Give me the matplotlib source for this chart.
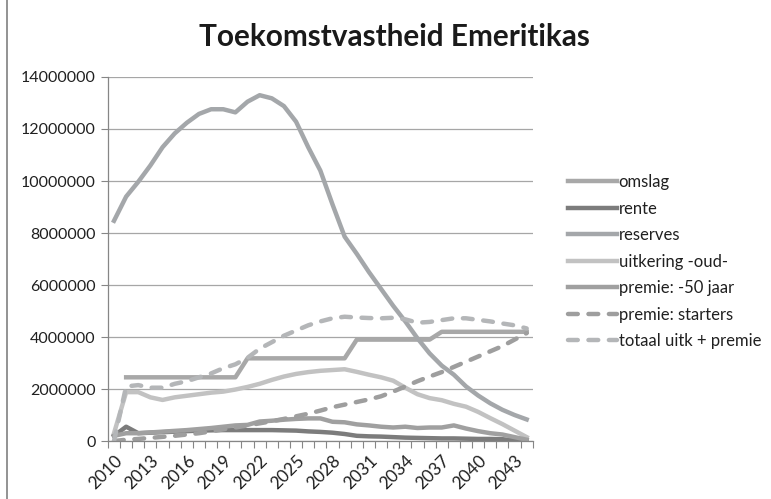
import numpy as np
import matplotlib
matplotlib.use('Agg')
import matplotlib.pyplot as plt
from matplotlib.lines import Line2D

plt.rcParams['font.family'] = ['Lato', 'DejaVu Sans']

years = list(range(2010, 2045))

# values in euro
omslag = [np.nan] + [2.45e6] * 10 + [3.18e6] * 9 + [3.9e6] * 7 + [4.2e6] * 8
rente = [0.2, 0.55, 0.3, 0.32, 0.34, 0.36, 0.38, 0.4, 0.41, 0.42, 0.42, 0.42,
         0.42, 0.42, 0.41, 0.4, 0.37, 0.35, 0.32, 0.27, 0.2, 0.18, 0.17, 0.15,
         0.13, 0.12, 0.11, 0.1, 0.1, 0.09, 0.08, 0.08, 0.07, 0.02, 0.0]
reserves = [8.47, 9.4, 9.97, 10.6, 11.3, 11.83, 12.24, 12.58, 12.76, 12.76,
            12.64, 13.05, 13.3, 13.18, 12.88, 12.28, 11.3, 10.4, 9.1, 7.86,
            7.2, 6.5, 5.85, 5.2, 4.6, 3.95, 3.37, 2.9, 2.55, 2.1, 1.75, 1.45,
            1.2, 1.0, 0.83]
uitkering = [0.3, 1.88, 1.88, 1.68, 1.58, 1.68, 1.74, 1.8, 1.86, 1.9, 1.98,
             2.08, 2.2, 2.35, 2.48, 2.58, 2.65, 2.7, 2.73, 2.76, 2.66, 2.55,
             2.45, 2.32, 2.05, 1.8, 1.65, 1.57, 1.43, 1.32, 1.12, 0.88, 0.65,
             0.4, 0.15]
premie50 = [0.2, 0.3, 0.3, 0.33, 0.36, 0.39, 0.42, 0.46, 0.5, 0.55, 0.6, 0.62,
            0.75, 0.78, 0.82, 0.85, 0.87, 0.87, 0.74, 0.72, 0.64, 0.6, 0.55,
            0.52, 0.55, 0.5, 0.52, 0.52, 0.6, 0.48, 0.38, 0.3, 0.25, 0.15, 0.05]
starters = [0.0, 0.05, 0.08, 0.12, 0.16, 0.2, 0.25, 0.3, 0.37, 0.45, 0.52, 0.6,
            0.68, 0.76, 0.85, 0.95, 1.05, 1.17, 1.3, 1.4, 1.5, 1.6, 1.72, 1.9,
            2.1, 2.3, 2.48, 2.65, 2.85, 3.05, 3.25, 3.45, 3.65, 3.9, 4.15]
totaal = [0.0, 2.1, 2.15, 2.05, 2.05, 2.2, 2.3, 2.45, 2.6, 2.8, 2.95, 3.2,
          3.55, 3.8, 4.05, 4.25, 4.45, 4.6, 4.72, 4.78, 4.75, 4.73, 4.72, 4.74,
          4.68, 4.55, 4.58, 4.65, 4.72, 4.72, 4.66, 4.6, 4.52, 4.45, 4.33]

def mil(v):
    return np.array(v) * 1e6

x = np.arange(len(years))

fig = plt.figure(figsize=(7.71, 4.99), dpi=100)
ax = fig.add_axes([0.140, 0.1162, 0.551, 0.7295])

lw = 3.2
ax.plot(x, omslag, color='#A8A8A8', lw=lw, label='omslag', solid_joinstyle='round')
ax.plot(x, mil(rente), color='#7C7C7C', lw=lw, label='rente', solid_joinstyle='round')
ax.plot(x, mil(reserves), color='#A4A7AA', lw=lw, label='reserves', solid_joinstyle='round')
ax.plot(x, mil(uitkering), color='#C2C2C2', lw=lw, label='uitkering -oud-', solid_joinstyle='round')
ax.plot(x, mil(premie50), color='#A0A0A0', lw=lw, label='premie: -50 jaar', solid_joinstyle='round')
ax.plot(x, mil(starters), color='#9E9E9E', lw=lw, ls=(0, (2.2, 2.4)),
        dash_capstyle='round', label='premie: starters')
ax.plot(x, mil(totaal), color='#B4B6B8', lw=lw, ls=(0, (2.2, 2.4)),
        dash_capstyle='round', label='totaal uitk + premie')

ax.set_xlim(-0.5, len(years) - 0.5)
ax.set_ylim(0, 14000000)
ax.set_yticks(np.arange(0, 14000001, 2000000))
ax.set_yticklabels([str(v) for v in range(0, 14000001, 2000000)])
ax.yaxis.grid(True, color='#A6A6A6', lw=0.9)
ax.set_axisbelow(True)

ax.set_xticks(x[::3])
ax.set_xticklabels([str(y) for y in years[::3]], rotation=45, ha='right',
                   rotation_mode='anchor')
ax.set_xticks(np.arange(-0.5, len(years), 1), minor=True)
ax.tick_params(axis='x', which='major', length=0, pad=8, labelsize=12.5)
ax.tick_params(axis='x', which='minor', length=5, color='#868686', width=0.8)
ax.tick_params(axis='y', length=5, color='#868686', width=0.8, pad=4, labelsize=11.5)
ax.tick_params(labelcolor='#202020')

for s in ['top', 'right']:
    ax.spines[s].set_visible(False)
for s in ['left', 'bottom']:
    ax.spines[s].set_color('#868686')
    ax.spines[s].set_linewidth(0.9)

fig.text(0.512, 0.925, 'Toekomstvastheid Emeritikas', ha='center', va='center',
         fontsize=21.4, fontweight='bold', color='#1A1A1A')

fig.legend(loc='upper left', bbox_to_anchor=(0.737, 0.651), frameon=False,
           fontsize=12, handlelength=2.9, handletextpad=0.12,
           labelspacing=0.63, borderpad=0, borderaxespad=0, labelcolor='#202020')

fig.add_artist(Line2D([0.009, 0.009], [0, 1], transform=fig.transFigure,
                      color='#808080', lw=1.2))

fig.savefig('out.png', dpi=100)
